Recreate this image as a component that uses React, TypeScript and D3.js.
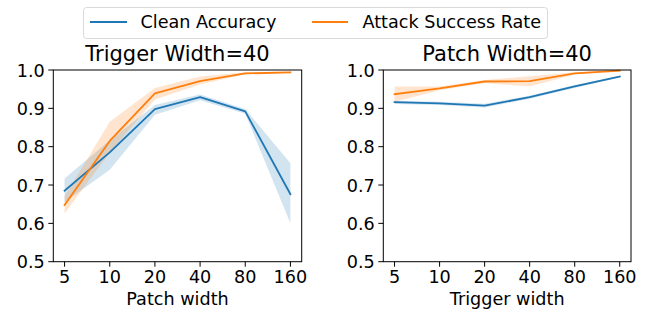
import React from "react";
import * as d3 from "d3";

const widths = ["5", "10", "20", "40", "80", "160"];
const yTicks = [0.5, 0.6, 0.7, 0.8, 0.9, 1.0];

// Left panel: Trigger Width=40, x = Patch width
const leftCleanMean = [0.685, 0.785, 0.898, 0.929, 0.892, 0.676];
const leftCleanLow = [0.655, 0.74, 0.883, 0.921, 0.886, 0.6];
const leftCleanHigh = [0.717, 0.817, 0.909, 0.936, 0.898, 0.757];
const leftAsrMean = [0.648, 0.815, 0.939, 0.971, 0.991, 0.994];
const leftAsrLow = [0.626, 0.785, 0.923, 0.962, 0.989, 0.993];
const leftAsrHigh = [0.67, 0.865, 0.953, 0.983, 0.994, 0.996];

// Right panel: Patch Width=40, x = Trigger width
const rightCleanMean = [0.916, 0.913, 0.907, 0.929, 0.957, 0.983];
const rightCleanLow = [0.911, 0.909, 0.902, 0.925, 0.953, 0.981];
const rightCleanHigh = [0.92, 0.917, 0.912, 0.933, 0.961, 0.985];
const rightAsrMean = [0.937, 0.952, 0.97, 0.971, 0.991, 0.998];
const rightAsrLow = [0.917, 0.947, 0.966, 0.957, 0.988, 0.997];
const rightAsrHigh = [0.957, 0.957, 0.974, 0.984, 0.994, 0.999];

const BLUE = "#1f77b4";
const ORANGE = "#ff7f0e";
const FONT = "DejaVu Sans, sans-serif";
const FS = 17.6;

type Series = { mean: number[]; low: number[]; high: number[]; color: string };

function Panel({ left, right, title, xlabel, series }: { left: number; right: number; title: string; xlabel: string; series: Series[] }) {
  const top = 70;
  const bottom = 261.7;
  const x = d3.scaleLinear().domain([-0.25, widths.length - 1 + 0.25]).range([left, right]);
  const y = d3.scaleLinear().domain([0.5, 1.0]).range([bottom, top]);
  const line = d3.line<number>().x((_, i) => x(i)).y((d) => y(d));
  return (
    <g>
      <text x={(left + right) / 2} y={60.5} textAnchor="middle" fontSize={21} fontFamily={FONT} fill="#000">{title}</text>
      {series.map((s, k) => {
        const area = d3.area<number>().x((_, i) => x(i)).y0((_, i) => y(s.low[i])).y1((_, i) => y(s.high[i]));
        return <path key={"a" + k} d={area(s.mean) || ""} fill={s.color} fillOpacity={0.2} stroke="none" />;
      })}
      {series.map((s, k) => (
        <path key={"l" + k} d={line(s.mean) || ""} fill="none" stroke={s.color} strokeWidth={1.8} strokeLinejoin="round" strokeLinecap="square" />
      ))}
      <rect x={left} y={top} width={right - left} height={bottom - top} fill="none" stroke="#000" strokeWidth={1} />
      {widths.map((w, i) => (
        <g key={w}>
          <line x1={x(i)} x2={x(i)} y1={bottom} y2={bottom + 5} stroke="#000" strokeWidth={1} />
          <text x={x(i)} y={283.3} textAnchor="middle" fontSize={FS} fontFamily={FONT} fill="#000">{w}</text>
        </g>
      ))}
      {yTicks.map((t) => (
        <g key={t}>
          <line x1={left - 5} x2={left} y1={y(t)} y2={y(t)} stroke="#000" strokeWidth={1} />
          <text x={left - 8.5} y={y(t) + 6.5} textAnchor="end" fontSize={FS} fontFamily={FONT} fill="#000">{t.toFixed(1)}</text>
        </g>
      ))}
      <text x={(left + right) / 2} y={305} textAnchor="middle" fontSize={FS} fontFamily={FONT} fill="#000">{xlabel}</text>
    </g>
  );
}

export default function App() {
  return (
    <svg width={649} height={312} style={{ position: "absolute", left: 0, top: 0, background: "#fff" }}>
      <rect x={0} y={0} width={649} height={312} fill="#fff" />
      <Panel
        left={53.3}
        right={301.7}
        title="Trigger Width=40"
        xlabel="Patch width"
        series={[
          { mean: leftCleanMean, low: leftCleanLow, high: leftCleanHigh, color: BLUE },
          { mean: leftAsrMean, low: leftAsrLow, high: leftAsrHigh, color: ORANGE },
        ]}
      />
      <Panel
        left={383.3}
        right={631}
        title="Patch Width=40"
        xlabel="Trigger width"
        series={[
          { mean: rightCleanMean, low: rightCleanLow, high: rightCleanHigh, color: BLUE },
          { mean: rightAsrMean, low: rightAsrLow, high: rightAsrHigh, color: ORANGE },
        ]}
      />
      <g>
        <rect x={83.5} y={7.5} width={464} height={31} rx={3} fill="#fff" fillOpacity={0.8} stroke="#d9d9d9" strokeWidth={1} />
        <line x1={90} x2={127} y1={22} y2={22} stroke={BLUE} strokeWidth={1.8} />
        <text x={140.5} y={27.5} fontSize={FS} fontFamily={FONT} fill="#000">Clean Accuracy</text>
        <line x1={312} x2={348} y1={22} y2={22} stroke={ORANGE} strokeWidth={1.8} />
        <text x={362.5} y={27.5} fontSize={FS} fontFamily={FONT} fill="#000">Attack Success Rate</text>
      </g>
    </svg>
  );
}
